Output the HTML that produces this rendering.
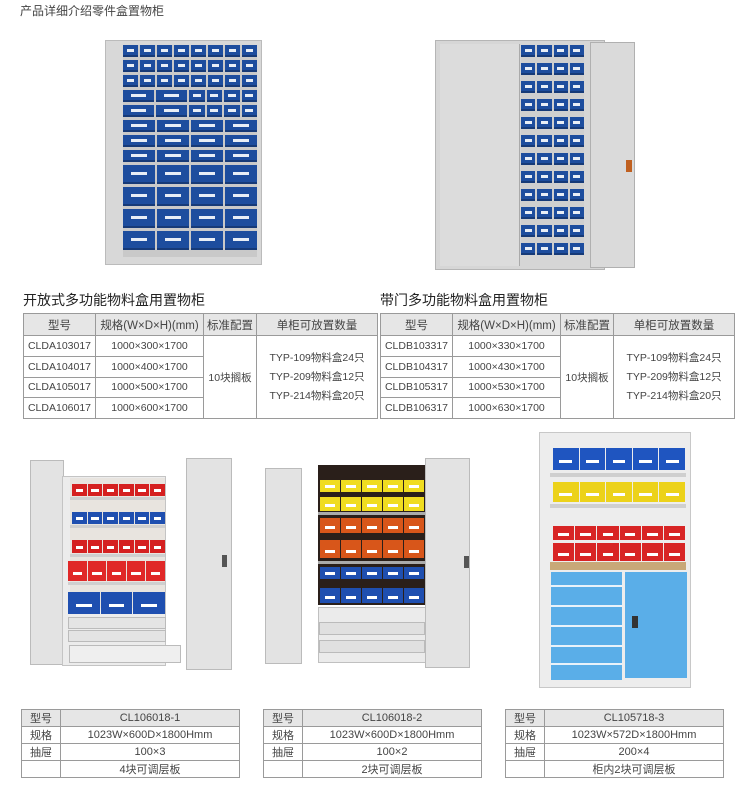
<!DOCTYPE html>
<html><head><meta charset="utf-8"><style>
*{margin:0;padding:0;box-sizing:border-box}
body{width:742px;height:790px;background:#fff;position:relative;overflow:hidden;font-family:"Liberation Sans","Noto Sans CJK SC",sans-serif;color:#333}
.a{position:absolute}
table{position:absolute;border-collapse:collapse;font-size:10.5px;color:#444}
td{border:1px solid #9a9a9a;text-align:center;padding:0}
.h td{background:#e6e6e6;font-size:11.5px}
.row{display:flex;gap:2px;margin-bottom:3px}
.bx{flex:1;background:#1d4d9e;position:relative;border-bottom:2px solid #163a78}
.bx:after{content:"";position:absolute;left:25%;right:25%;top:40%;height:3px;background:#e8eef6}
.shelf{position:absolute;height:3px;background:#cfcfcf}
.bins{position:absolute;display:flex;gap:1px}
.bins div{flex:1;position:relative}
.bins div:after{content:"";position:absolute;left:25%;right:25%;bottom:30%;height:3px;background:#fff}
</style></head><body>
<div class="a" style="left:20px;top:2px;font-size:12px;color:#444">产品详细介绍零件盒置物柜</div>

<!-- top-left cabinet -->
<div class="a" style="left:105px;top:40px;width:157px;height:225px;background:#d8d8d8;border:1px solid #bbb"></div>
<div class="a" style="left:123px;top:45px;width:134px;height:212px;background:#c9c9c9;padding:0">
 <div style="position:absolute;left:0;top:0;width:134px">
  <div class="row" style="height:12px"><div class="bx"></div><div class="bx"></div><div class="bx"></div><div class="bx"></div><div class="bx"></div><div class="bx"></div><div class="bx"></div><div class="bx"></div></div>
  <div class="row" style="height:12px"><div class="bx"></div><div class="bx"></div><div class="bx"></div><div class="bx"></div><div class="bx"></div><div class="bx"></div><div class="bx"></div><div class="bx"></div></div>
  <div class="row" style="height:12px"><div class="bx"></div><div class="bx"></div><div class="bx"></div><div class="bx"></div><div class="bx"></div><div class="bx"></div><div class="bx"></div><div class="bx"></div></div>
  <div class="row" style="height:12px"><div class="bx" style="flex:2"></div><div class="bx" style="flex:2"></div><div class="bx"></div><div class="bx"></div><div class="bx"></div><div class="bx"></div></div>
  <div class="row" style="height:12px"><div class="bx" style="flex:2"></div><div class="bx" style="flex:2"></div><div class="bx"></div><div class="bx"></div><div class="bx"></div><div class="bx"></div></div>
  <div class="row" style="height:12px"><div class="bx"></div><div class="bx"></div><div class="bx"></div><div class="bx"></div></div>
  <div class="row" style="height:12px"><div class="bx"></div><div class="bx"></div><div class="bx"></div><div class="bx"></div></div>
  <div class="row" style="height:12px"><div class="bx"></div><div class="bx"></div><div class="bx"></div><div class="bx"></div></div>
  <div class="row" style="height:19px"><div class="bx"></div><div class="bx"></div><div class="bx"></div><div class="bx"></div></div>
  <div class="row" style="height:19px"><div class="bx"></div><div class="bx"></div><div class="bx"></div><div class="bx"></div></div>
  <div class="row" style="height:19px"><div class="bx"></div><div class="bx"></div><div class="bx"></div><div class="bx"></div></div>
  <div class="row" style="height:19px"><div class="bx"></div><div class="bx"></div><div class="bx"></div><div class="bx"></div></div>
 </div>
</div>

<!-- top-right cabinet -->
<div class="a" style="left:435px;top:40px;width:170px;height:230px;background:#d6d6d6;border:1px solid #b5b5b5"></div>
<div class="a" style="left:440px;top:44px;width:80px;height:222px;background:#dcdcdc;border-right:1px solid #aaa"></div>
<div class="a" style="left:521px;top:45px;width:63px;height:210px;background:#cfcfcf">
 <div style="position:absolute;left:0;top:0;width:63px">
  <div class="row" style="height:12px;margin-bottom:6px"><div class="bx"></div><div class="bx"></div><div class="bx"></div><div class="bx"></div></div>
  <div class="row" style="height:12px;margin-bottom:6px"><div class="bx"></div><div class="bx"></div><div class="bx"></div><div class="bx"></div></div>
  <div class="row" style="height:12px;margin-bottom:6px"><div class="bx"></div><div class="bx"></div><div class="bx"></div><div class="bx"></div></div>
  <div class="row" style="height:12px;margin-bottom:6px"><div class="bx"></div><div class="bx"></div><div class="bx"></div><div class="bx"></div></div>
  <div class="row" style="height:12px;margin-bottom:6px"><div class="bx"></div><div class="bx"></div><div class="bx"></div><div class="bx"></div></div>
  <div class="row" style="height:12px;margin-bottom:6px"><div class="bx"></div><div class="bx"></div><div class="bx"></div><div class="bx"></div></div>
  <div class="row" style="height:12px;margin-bottom:6px"><div class="bx"></div><div class="bx"></div><div class="bx"></div><div class="bx"></div></div>
  <div class="row" style="height:12px;margin-bottom:6px"><div class="bx"></div><div class="bx"></div><div class="bx"></div><div class="bx"></div></div>
  <div class="row" style="height:12px;margin-bottom:6px"><div class="bx"></div><div class="bx"></div><div class="bx"></div><div class="bx"></div></div>
  <div class="row" style="height:12px;margin-bottom:6px"><div class="bx"></div><div class="bx"></div><div class="bx"></div><div class="bx"></div></div>
  <div class="row" style="height:12px;margin-bottom:6px"><div class="bx"></div><div class="bx"></div><div class="bx"></div><div class="bx"></div></div>
  <div class="row" style="height:12px;margin-bottom:6px"><div class="bx"></div><div class="bx"></div><div class="bx"></div><div class="bx"></div></div>
 </div>
</div>
<div class="a" style="left:590px;top:42px;width:45px;height:226px;background:#dadada;border:1px solid #b0b0b0"></div>
<div class="a" style="left:626px;top:160px;width:6px;height:12px;background:#c06020"></div>

<!-- titles & tables -->
<div class="a" style="left:23px;top:290px;font-size:14px;color:#222">开放式多功能物料盒用置物柜</div>
<div class="a" style="left:380px;top:290px;font-size:14px;color:#222">带门多功能物料盒用置物柜</div>
<table style="left:23px;top:313px;width:355px;height:106px">
<tr class="h" style="height:22px"><td style="width:72px">型号</td><td style="width:108px">规格(W×D×H)(mm)</td><td style="width:53px">标准配置</td><td>单柜可放置数量</td></tr>
<tr><td>CLDA103017</td><td>1000×300×1700</td><td rowspan="4">10块搁板</td><td rowspan="4" style="line-height:19px">TYP-109物料盒24只<br>TYP-209物料盒12只<br>TYP-214物料盒20只</td></tr>
<tr><td>CLDA104017</td><td>1000×400×1700</td></tr>
<tr><td>CLDA105017</td><td>1000×500×1700</td></tr>
<tr><td>CLDA106017</td><td>1000×600×1700</td></tr>
</table>
<table style="left:380px;top:313px;width:355px;height:106px">
<tr class="h" style="height:22px"><td style="width:72px">型号</td><td style="width:108px">规格(W×D×H)(mm)</td><td style="width:53px">标准配置</td><td>单柜可放置数量</td></tr>
<tr><td>CLDB103317</td><td>1000×330×1700</td><td rowspan="4">10块搁板</td><td rowspan="4" style="line-height:19px">TYP-109物料盒24只<br>TYP-209物料盒12只<br>TYP-214物料盒20只</td></tr>
<tr><td>CLDB104317</td><td>1000×430×1700</td></tr>
<tr><td>CLDB105317</td><td>1000×530×1700</td></tr>
<tr><td>CLDB106317</td><td>1000×630×1700</td></tr>
</table>

<!-- bottom cabinet 1 -->
<div class="a" style="left:30px;top:460px;width:34px;height:205px;background:#e3e3e3;border:1px solid #bbb"></div>
<div class="a" style="left:62px;top:476px;width:104px;height:190px;background:#ececec;border:1px solid #c4c4c4"></div>
<div class="a" style="left:70px;top:478px;width:95px;height:130px;background:#e8e4df"></div>
<div class="bins" style="left:72px;top:484px;width:93px;height:12px"><div style="background:#d52020"></div><div style="background:#d52020"></div><div style="background:#d52020"></div><div style="background:#d52020"></div><div style="background:#d52020"></div><div style="background:#d52020"></div></div>
<div class="shelf" style="left:70px;top:497px;width:95px"></div>
<div class="bins" style="left:72px;top:512px;width:93px;height:12px"><div style="background:#1f4fb0"></div><div style="background:#1f4fb0"></div><div style="background:#1f4fb0"></div><div style="background:#1f4fb0"></div><div style="background:#1f4fb0"></div><div style="background:#1f4fb0"></div></div>
<div class="shelf" style="left:70px;top:525px;width:95px"></div>
<div class="bins" style="left:72px;top:540px;width:93px;height:13px"><div style="background:#d52020"></div><div style="background:#d52020"></div><div style="background:#d52020"></div><div style="background:#d52020"></div><div style="background:#d52020"></div><div style="background:#d52020"></div></div>
<div class="shelf" style="left:70px;top:554px;width:95px"></div>
<div class="bins" style="left:68px;top:561px;width:97px;height:20px"><div style="background:#e02828"></div><div style="background:#e02828"></div><div style="background:#e02828"></div><div style="background:#e02828"></div><div style="background:#e02828"></div></div>
<div class="shelf" style="left:68px;top:582px;width:97px"></div>
<div class="bins" style="left:68px;top:592px;width:97px;height:22px"><div style="background:#1f4fb0"></div><div style="background:#1f4fb0"></div><div style="background:#1f4fb0"></div></div>
<div class="a" style="left:68px;top:617px;width:98px;height:12px;background:#e4e4e4;border:1px solid #bbb"></div>
<div class="a" style="left:68px;top:630px;width:98px;height:12px;background:#e4e4e4;border:1px solid #bbb"></div>
<div class="a" style="left:69px;top:645px;width:112px;height:18px;background:#efefef;border:1px solid #bbb"></div>
<div class="a" style="left:186px;top:458px;width:46px;height:212px;background:#e3e3e3;border:1px solid #bbb"></div>
<div class="a" style="left:222px;top:555px;width:5px;height:12px;background:#555"></div>

<!-- bottom cabinet 2 -->
<div class="a" style="left:265px;top:468px;width:37px;height:196px;background:#e3e3e3;border:1px solid #bbb"></div>
<div class="a" style="left:318px;top:465px;width:108px;height:140px;background:#2a1f1a"></div>
<div class="bins" style="left:320px;top:480px;width:104px;height:12px"><div style="background:#f0dc20"></div><div style="background:#f0dc20"></div><div style="background:#f0dc20"></div><div style="background:#f0dc20"></div><div style="background:#f0dc20"></div></div>
<div class="bins" style="left:320px;top:497px;width:104px;height:14px"><div style="background:#f0dc20"></div><div style="background:#f0dc20"></div><div style="background:#f0dc20"></div><div style="background:#f0dc20"></div><div style="background:#f0dc20"></div></div>
<div class="shelf" style="left:318px;top:512px;width:108px;background:#aaa"></div>
<div class="bins" style="left:320px;top:518px;width:104px;height:15px"><div style="background:#d8561a"></div><div style="background:#d8561a"></div><div style="background:#d8561a"></div><div style="background:#d8561a"></div><div style="background:#d8561a"></div></div>
<div class="bins" style="left:320px;top:540px;width:104px;height:18px"><div style="background:#d8561a"></div><div style="background:#d8561a"></div><div style="background:#d8561a"></div><div style="background:#d8561a"></div><div style="background:#d8561a"></div></div>
<div class="shelf" style="left:318px;top:561px;width:108px;background:#aaa"></div>
<div class="bins" style="left:320px;top:567px;width:104px;height:12px"><div style="background:#1f4fb0"></div><div style="background:#1f4fb0"></div><div style="background:#1f4fb0"></div><div style="background:#1f4fb0"></div><div style="background:#1f4fb0"></div></div>
<div class="bins" style="left:320px;top:588px;width:104px;height:15px"><div style="background:#1f4fb0"></div><div style="background:#1f4fb0"></div><div style="background:#1f4fb0"></div><div style="background:#1f4fb0"></div><div style="background:#1f4fb0"></div></div>
<div class="a" style="left:318px;top:607px;width:108px;height:56px;background:#ebebeb;border:1px solid #c0c0c0"></div>
<div class="a" style="left:319px;top:622px;width:106px;height:13px;background:#e0e0e0;border:1px solid #bbb"></div>
<div class="a" style="left:319px;top:640px;width:106px;height:13px;background:#e0e0e0;border:1px solid #bbb"></div>
<div class="a" style="left:425px;top:458px;width:45px;height:210px;background:#e3e3e3;border:1px solid #bbb"></div>
<div class="a" style="left:464px;top:556px;width:5px;height:12px;background:#555"></div>

<!-- bottom cabinet 3 -->
<div class="a" style="left:539px;top:432px;width:152px;height:256px;background:#ededed;border:1px solid #c8c8c8"></div>
<div class="bins" style="left:553px;top:448px;width:132px;height:22px"><div style="background:#1f55c0"></div><div style="background:#1f55c0"></div><div style="background:#1f55c0"></div><div style="background:#1f55c0"></div><div style="background:#1f55c0"></div></div>
<div class="shelf" style="left:550px;top:473px;width:136px;height:4px"></div>
<div class="bins" style="left:553px;top:482px;width:132px;height:20px"><div style="background:#ecd21a"></div><div style="background:#ecd21a"></div><div style="background:#ecd21a"></div><div style="background:#ecd21a"></div><div style="background:#ecd21a"></div></div>
<div class="shelf" style="left:550px;top:504px;width:136px;height:4px"></div>
<div class="bins" style="left:553px;top:526px;width:132px;height:14px"><div style="background:#d82525"></div><div style="background:#d82525"></div><div style="background:#d82525"></div><div style="background:#d82525"></div><div style="background:#d82525"></div><div style="background:#d82525"></div></div>
<div class="bins" style="left:553px;top:543px;width:132px;height:18px"><div style="background:#d82525"></div><div style="background:#d82525"></div><div style="background:#d82525"></div><div style="background:#d82525"></div><div style="background:#d82525"></div><div style="background:#d82525"></div></div>
<div class="a" style="left:550px;top:562px;width:136px;height:8px;background:#c8a878"></div>
<div class="a" style="left:551px;top:572px;width:71px;height:108px;background:#5aaee8"></div>
<div class="a" style="left:551px;top:585px;width:71px;height:2px;background:#e8f2fa"></div>
<div class="a" style="left:551px;top:605px;width:71px;height:2px;background:#e8f2fa"></div>
<div class="a" style="left:551px;top:625px;width:71px;height:2px;background:#e8f2fa"></div>
<div class="a" style="left:551px;top:645px;width:71px;height:2px;background:#e8f2fa"></div>
<div class="a" style="left:551px;top:663px;width:71px;height:2px;background:#e8f2fa"></div>
<div class="a" style="left:625px;top:572px;width:62px;height:106px;background:#5aaee8"></div>
<div class="a" style="left:632px;top:616px;width:6px;height:12px;background:#333"></div>

<!-- bottom tables -->
<table style="left:21px;top:709px;width:219px;height:68px;font-size:11px">
<tr><td style="width:39px;background:#e6e6e6">型号</td><td style="background:#e6e6e6">CL106018-1</td></tr>
<tr><td>规格</td><td>1023W×600D×1800Hmm</td></tr>
<tr><td>抽屉</td><td>100×3</td></tr>
<tr><td></td><td>4块可调层板</td></tr>
</table>
<table style="left:263px;top:709px;width:219px;height:68px;font-size:11px">
<tr><td style="width:39px;background:#e6e6e6">型号</td><td style="background:#e6e6e6">CL106018-2</td></tr>
<tr><td>规格</td><td>1023W×600D×1800Hmm</td></tr>
<tr><td>抽屉</td><td>100×2</td></tr>
<tr><td></td><td>2块可调层板</td></tr>
</table>
<table style="left:505px;top:709px;width:219px;height:68px;font-size:11px">
<tr><td style="width:39px;background:#e6e6e6">型号</td><td style="background:#e6e6e6">CL105718-3</td></tr>
<tr><td>规格</td><td>1023W×572D×1800Hmm</td></tr>
<tr><td>抽屉</td><td>200×4</td></tr>
<tr><td></td><td>柜内2块可调层板</td></tr>
</table>
</body></html>
